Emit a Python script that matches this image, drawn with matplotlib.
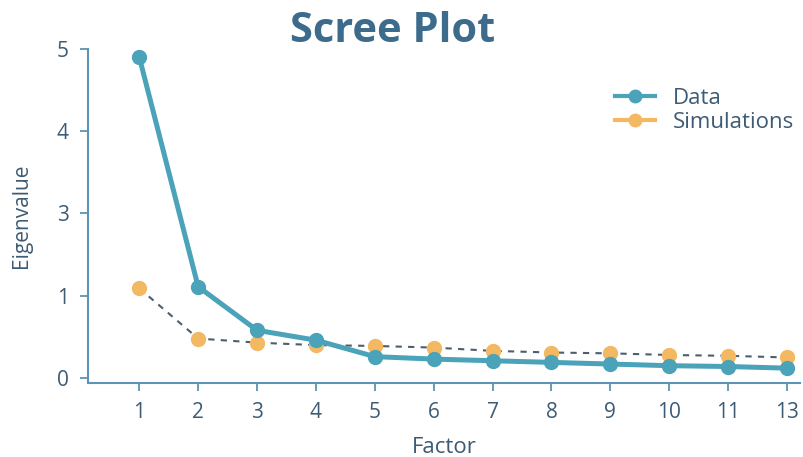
import matplotlib
matplotlib.use("Agg")
import matplotlib.pyplot as plt
from matplotlib.lines import Line2D

# values (y in plotted units, ticks labelled as in the original)
factors = [1, 2, 3, 4, 5, 6, 7, 8, 9, 10, 11, 12]
x_labels = ["1", "2", "3", "4", "5", "6", "7", "8", "9", "10", "11", "13"]
data_eig = [3.90, 1.11, 0.58, 0.46, 0.26, 0.23, 0.21, 0.19, 0.17, 0.15, 0.14, 0.12]
sim_eig = [1.09, 0.48, 0.43, 0.40, 0.39, 0.37, 0.33, 0.31, 0.30, 0.28, 0.27, 0.25]
y_ticks = [0, 1, 2, 3, 4]
y_labels = ["0", "1", "3", "4", "5"]

teal = "#4aa3b9"
orange = "#f3b862"
axis_col = "#5f93b5"
text_col = "#3d5b74"

plt.rcParams["font.family"] = ["Open Sans", "DejaVu Sans"]

fig = plt.figure(figsize=(8.04, 4.57), dpi=100)
ax = fig.add_axes([0.1095, 0.162, 0.8855, 0.731])

ax.plot(factors, sim_eig, linestyle=(0, (3, 3)), color="#4d5e6e", linewidth=1.5, zorder=2)
ax.plot(factors, sim_eig, linestyle="none", marker="o", markersize=10,
        color=orange, zorder=3, clip_on=False)
ax.plot(factors, data_eig, linestyle="-", marker="o", markersize=10,
        color=teal, linewidth=3.6, zorder=4, clip_on=False)

ax.set_xlim(0.13, 12.22)
ax.set_ylim(-0.06, 4.0)
ax.set_xticks(factors)
ax.set_xticklabels(x_labels)
ax.set_yticks(y_ticks)
ax.set_yticklabels(y_labels)

for s in ["top", "right"]:
    ax.spines[s].set_visible(False)
for s in ["left", "bottom"]:
    ax.spines[s].set_color(axis_col)
    ax.spines[s].set_linewidth(1.5)
ax.tick_params(colors=axis_col, labelcolor=text_col, labelsize=15,
               length=6, width=1.3, direction="out", pad=8)

ax.set_xlabel("Factor", fontsize=16, color=text_col, labelpad=10)
ax.set_ylabel("Eigenvalue", fontsize=15, color=text_col, labelpad=18)
fig.text(0.488, 0.93, "Scree Plot", ha="center", va="center",
         fontsize=30, fontweight="bold", color="#3c6b8c")

handles = [
    Line2D([], [], color=teal, marker="o", markersize=9, linewidth=3),
    Line2D([], [], color=orange, marker="o", markersize=9, linewidth=3),
]
ax.legend(handles, ["Data", "Simulations"], loc="upper left",
          bbox_to_anchor=(0.728, 0.91), frameon=False, fontsize=16,
          labelcolor=text_col, handlelength=1.8, handletextpad=0.8,
          labelspacing=0.12, borderaxespad=0)

fig.savefig("out.png", dpi=100)
